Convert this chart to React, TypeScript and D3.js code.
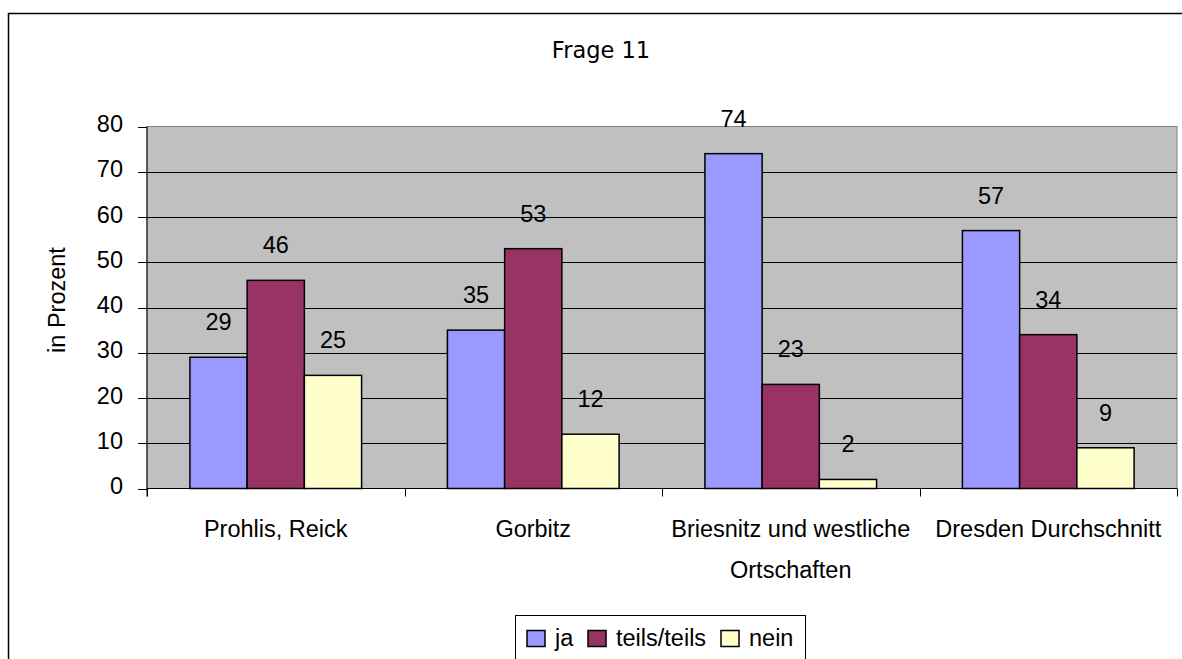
import React from "react";
import * as d3 from "d3";

const categories: string[][] = [
  ["Prohlis, Reick"],
  ["Gorbitz"],
  ["Briesnitz und westliche", "Ortschaften"],
  ["Dresden Durchschnitt"],
];
const seriesNames = ["ja", "teils/teils", "nein"];
const seriesColors = ["#9999FF", "#993366", "#FFFFCC"];
const ja = [29, 35, 74, 57];
const teils = [46, 53, 23, 34];
const nein = [25, 12, 2, 9];
const yTicks = [0, 10, 20, 30, 40, 50, 60, 70, 80];

export default function App() {
  const W = 1182, H = 659;
  const left = 147, right = 1177, top = 126.5, bottom = 488.5;
  const series = [ja, teils, nein];
  const x0 = d3.scaleBand<number>().domain(d3.range(categories.length)).range([left, right]).paddingInner(0).paddingOuter(0);
  const bw = x0.bandwidth();
  const barW = bw / 4.5;
  const y = d3.scaleLinear().domain([0, 80]).range([bottom, top]);
  const font = "'Liberation Sans', Arial, sans-serif";
  const fs = 23.5;

  return (
    <svg width={W} height={H} style={{ position: "absolute", left: 0, top: 0, background: "#fff" }} fontFamily={font}>
      <rect x={8.5} y={13.5} width={1300} height={800} fill="#fff" stroke="#000" strokeWidth={1.5} />
      <text x={601} y={58} textAnchor="middle" fontSize={22.5} fontFamily="'DejaVu Sans', Verdana, sans-serif" fill="#000">Frage 11</text>
      <rect x={left} y={top} width={right - left} height={bottom - top} fill="#C0C0C0" stroke="#808080" strokeWidth={1} />
      {yTicks.slice(1, -1).map((t) => (
        <line key={t} x1={left} x2={right} y1={Math.round(y(t)) + 0.5} y2={Math.round(y(t)) + 0.5} stroke="#000" strokeWidth={1} />
      ))}
      {series.map((vals, si) =>
        vals.map((v, ci) => {
          const bx = (x0(ci) as number) + barW * 0.75 + si * barW;
          return (
            <rect key={`${si}-${ci}`} x={bx} y={y(v)} width={barW} height={bottom - y(v)} fill={seriesColors[si]} stroke="#000" strokeWidth={1.5} />
          );
        })
      )}
      {series.map((vals, si) =>
        vals.map((v, ci) => {
          const bx = (x0(ci) as number) + barW * 0.75 + si * barW + barW / 2;
          return (
            <text key={`l${si}-${ci}`} x={bx} y={y(v) - 27} textAnchor="middle" fontSize={fs} fill="#000">{v}</text>
          );
        })
      )}
      <line x1={left} x2={left} y1={top} y2={bottom + 8} stroke="#000" strokeWidth={1} />
      <line x1={left} x2={right} y1={bottom} y2={bottom} stroke="#000" strokeWidth={1} />
      {yTicks.map((t) => (
        <g key={`yt${t}`}>
          <line x1={left - 9} x2={left} y1={Math.round(y(t)) + 0.5} y2={Math.round(y(t)) + 0.5} stroke="#000" />
          <text x={123} y={y(t) + 5.5} textAnchor="end" fontSize={fs} fill="#000">{t}</text>
        </g>
      ))}
      {d3.range(categories.length + 1).map((i) => {
        const xx = Math.round(left + i * bw) + 0.5;
        return <line key={`xt${i}`} x1={xx} x2={xx} y1={bottom} y2={bottom + 8} stroke="#000" />;
      })}
      {categories.map((lines, ci) => (
        <text key={`c${ci}`} x={(x0(ci) as number) + bw / 2} y={537} textAnchor="middle" fontSize={fs} fill="#000">
          {lines.map((ln, li) => (
            <tspan key={li} x={(x0(ci) as number) + bw / 2} dy={li === 0 ? 0 : 41}>{ln}</tspan>
          ))}
        </text>
      ))}
      <text transform={`translate(65, 300) rotate(-90)`} textAnchor="middle" fontSize={fs} fill="#000">in Prozent</text>
      <rect x={515.5} y={615.5} width={290} height={80} fill="#fff" stroke="#000" strokeWidth={1} />
      {[{ sx: 527, tx: 555 }, { sx: 588, tx: 616 }, { sx: 721, tx: 749 }].map((p, i) => (
        <g key={`lg${i}`}>
          <rect x={p.sx} y={630.5} width={18} height={16} fill={seriesColors[i]} stroke="#000" strokeWidth={1.5} />
          <text x={p.tx} y={645.5} fontSize={fs} fill="#000">{seriesNames[i]}</text>
        </g>
      ))}
    </svg>
  );
}
